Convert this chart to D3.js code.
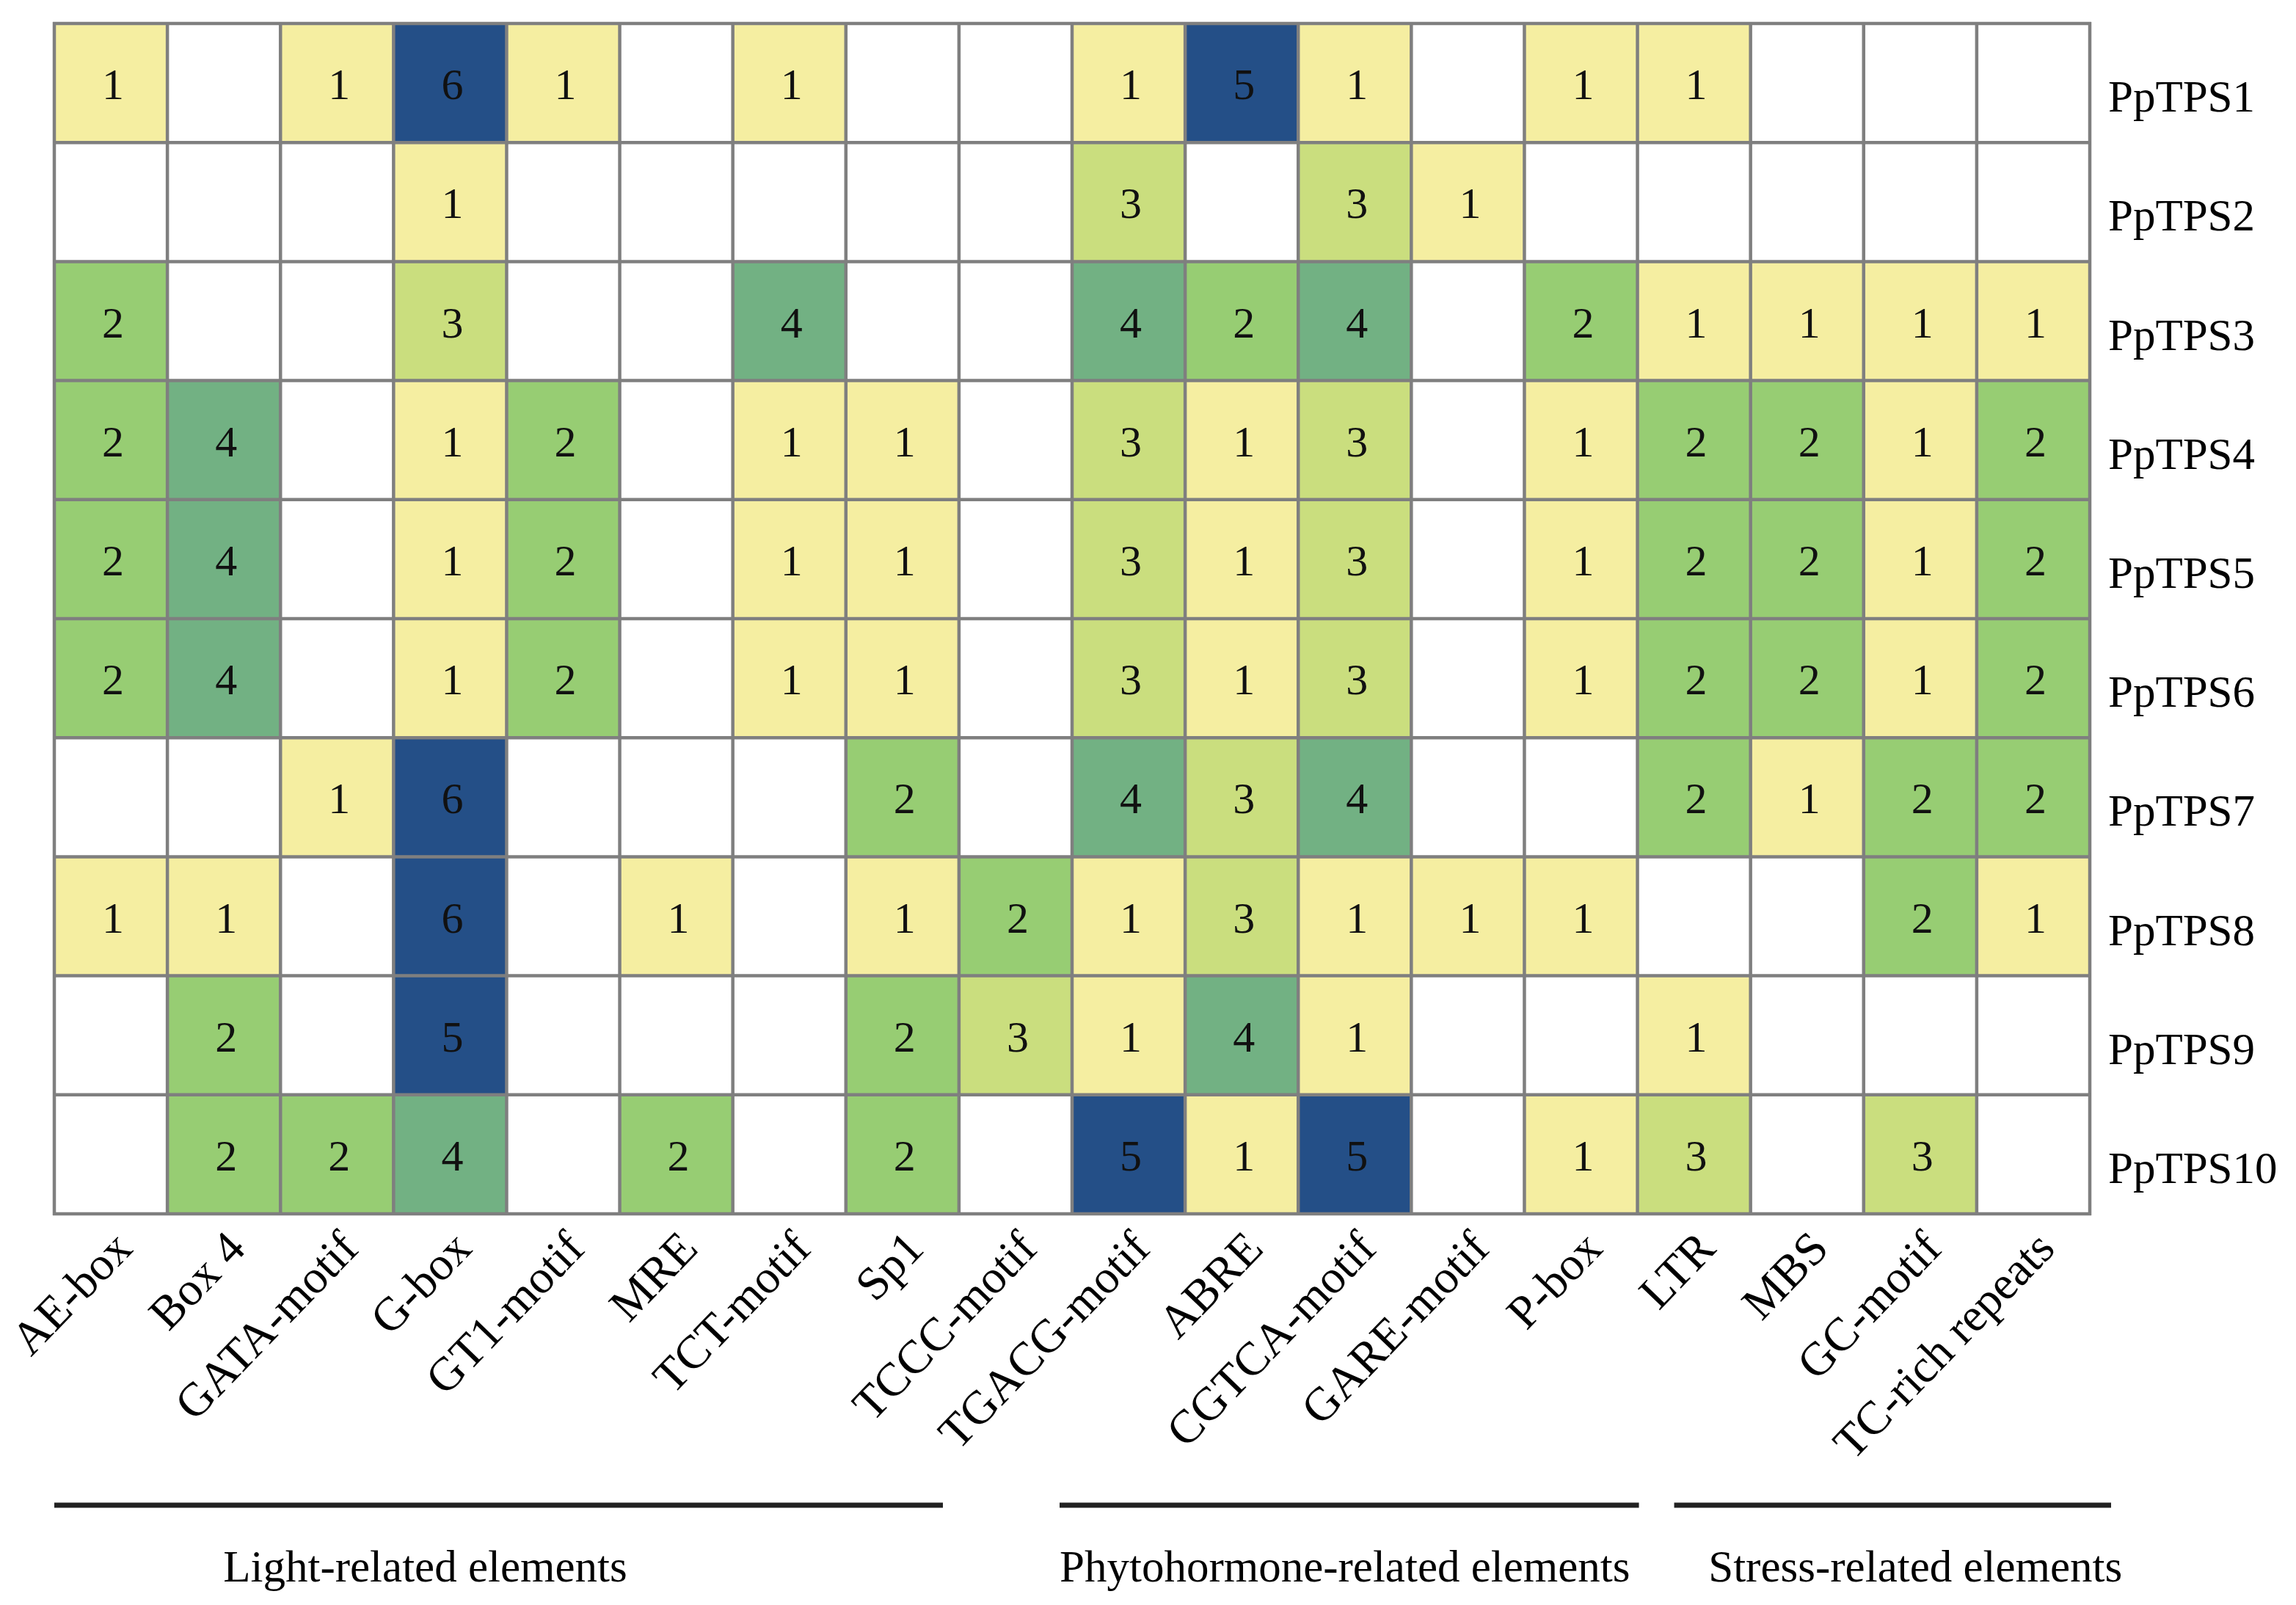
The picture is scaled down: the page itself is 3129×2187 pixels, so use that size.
<!DOCTYPE html>
<html><head><meta charset="utf-8">
<script src="https://cdn.jsdelivr.net/npm/d3@7/dist/d3.min.js"></script>
<style>html,body{margin:0;padding:0;background:#fff;}svg{display:block;}</style>
</head><body>
<script>
const elements = ["AE-box","Box 4","GATA-motif","G-box","GT1-motif","MRE","TCT-motif","Sp1","TCCC-motif","TGACG-motif","ABRE","CGTCA-motif","GARE-motif","P-box","LTR","MBS","GC-motif","TC-rich repeats"];
const genes = ["PpTPS1","PpTPS2","PpTPS3","PpTPS4","PpTPS5","PpTPS6","PpTPS7","PpTPS8","PpTPS9","PpTPS10"];
const PpTPS1  = [1,0,1,6,1,0,1,0,0,1,5,1,0,1,1,0,0,0];
const PpTPS2  = [0,0,0,1,0,0,0,0,0,3,0,3,1,0,0,0,0,0];
const PpTPS3  = [2,0,0,3,0,0,4,0,0,4,2,4,0,2,1,1,1,1];
const PpTPS4  = [2,4,0,1,2,0,1,1,0,3,1,3,0,1,2,2,1,2];
const PpTPS5  = [2,4,0,1,2,0,1,1,0,3,1,3,0,1,2,2,1,2];
const PpTPS6  = [2,4,0,1,2,0,1,1,0,3,1,3,0,1,2,2,1,2];
const PpTPS7  = [0,0,1,6,0,0,0,2,0,4,3,4,0,0,2,1,2,2];
const PpTPS8  = [1,1,0,6,0,1,0,1,2,1,3,1,1,1,0,0,2,1];
const PpTPS9  = [0,2,0,5,0,0,0,2,3,1,4,1,0,0,1,0,0,0];
const PpTPS10 = [0,2,2,4,0,2,0,2,0,5,1,5,0,1,3,0,3,0];
const counts = [PpTPS1,PpTPS2,PpTPS3,PpTPS4,PpTPS5,PpTPS6,PpTPS7,PpTPS8,PpTPS9,PpTPS10];
const groupNames = ["Light-related elements","Phytohormone-related elements","Stress-related elements"];
const groupFirst = ["AE-box","TGACG-motif","LTR"];
const groupLast  = ["TCCC-motif","P-box","TC-rich repeats"];

const W = 3129, H = 2187;
const FONT = "'Liberation Serif','Times New Roman',serif";
const svg = d3.select("body").append("svg").attr("width",W).attr("height",H);

const x = d3.scaleBand().domain(elements).range([74,2848]).padding(0);
const y = d3.scaleBand().domain(genes).range([32,1654]).padding(0);
const color = d3.scaleOrdinal().domain([1,2,3,4,5,6])
  .range(["#F5EEA1","#97CD73","#CADE7E","#72B183","#244F87","#244F87"]);

const cells = [];
genes.forEach((g,i)=>elements.forEach((e,j)=>cells.push({g,e,v:counts[i][j]})));

svg.append("g").selectAll("rect").data(cells).join("rect")
  .attr("x",d=>x(d.e)).attr("y",d=>y(d.g))
  .attr("width",x.bandwidth()).attr("height",y.bandwidth())
  .attr("fill",d=>d.v>0?color(d.v):"#ffffff");

// grid lines
const grid = svg.append("g").attr("stroke","#7f7f7f").attr("stroke-width",4.5);
const xs = elements.map(e=>x(e)).concat([x.range()[1]]);
const ys = genes.map(g=>y(g)).concat([y.range()[1]]);
grid.selectAll("line.v").data(xs).join("line").attr("class","v")
  .attr("x1",d=>d).attr("x2",d=>d).attr("y1",y.range()[0]-2).attr("y2",y.range()[1]+2);
grid.selectAll("line.h").data(ys).join("line").attr("class","h")
  .attr("y1",d=>d).attr("y2",d=>d).attr("x1",x.range()[0]-2).attr("x2",x.range()[1]+2);

// numbers
svg.append("g").selectAll("text").data(cells.filter(d=>d.v>0)).join("text")
  .attr("x",d=>x(d.e)+x.bandwidth()/2+3).attr("y",d=>y(d.g)+y.bandwidth()/2+22)
  .attr("text-anchor","middle").attr("font-family",FONT).attr("font-size",60)
  .attr("fill","#111").text(d=>d.v);

// row labels
svg.append("g").selectAll("text").data(genes).join("text")
  .attr("x",x.range()[1]+25).attr("y",d=>y(d)+y.bandwidth()/2+39)
  .attr("font-family",FONT).attr("font-size",61).attr("fill","#000").text(d=>d);

// column labels
svg.append("g").selectAll("text").data(elements).join("text")
  .attr("transform",d=>`translate(${x(d)+x.bandwidth()/2+32},${1704}) rotate(-46)`)
  .attr("text-anchor","end").attr("font-family",FONT).attr("font-size",64)
  .attr("fill","#000").text(d=>d);

// group brackets
const lineAdj = [[0,-176],[-17,2],[50,29]];
const textAdj = [-100,-6,31];
groupNames.forEach((name,i)=>{
  const x1 = x(groupFirst[i]) + lineAdj[i][0];
  const x2 = x(groupLast[i]) + x.bandwidth() + lineAdj[i][1];
  svg.append("line").attr("x1",x1).attr("x2",x2).attr("y1",2051).attr("y2",2051)
    .attr("stroke","#222").attr("stroke-width",7);
  svg.append("text").attr("x",(x1+x2)/2+textAdj[i]).attr("y",2155)
    .attr("text-anchor","middle").attr("font-family",FONT).attr("font-size",61)
    .attr("fill","#000").text(name);
});
</script>
</body></html>
